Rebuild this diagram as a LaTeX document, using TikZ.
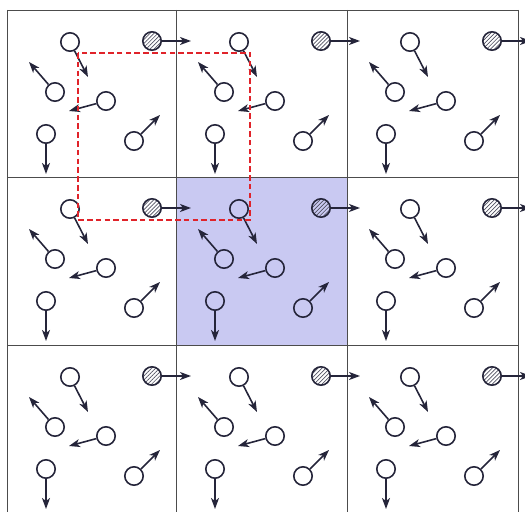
\documentclass[tikz,border=0pt]{standalone}
\usetikzlibrary{arrows.meta,patterns.meta}
\begin{document}
\begin{tikzpicture}[x=0.5pt,y=-0.5pt,
    cellline/.style={draw=black!70, line width=0.45pt},
    mol/.style={circle, draw=inkg, line width=0.8pt, minimum size=9.2pt, inner sep=0pt},
    tagged/.style={mol, pattern={Lines[angle=45,distance=1.4pt,line width=0.35pt]}, pattern color=inkg!80},
    vel/.style={draw=inkg, line width=0.8pt, -{Stealth[length=5.5pt,width=4pt,inset=1.5pt]}},
    window/.style={draw=redg, line width=1.4pt, dash pattern=on 2.8pt off 1.6pt},
  ]
  \definecolor{inkg}{HTML}{25253A}
  \definecolor{lavg}{HTML}{C9C9F2}
  \definecolor{redg}{HTML}{E0232A}
  \clip (0,0) rectangle (525,512);
  \fill[lavg] (176,177) rectangle (347,345);
  \foreach \x in {7,176,347,518} {\draw[cellline] (\x,10) -- (\x,512);}
  \foreach \y in {10,177,345} {\draw[cellline] (7,\y) -- (518,\y);}
  \foreach \cx/\ci in {7/0,176/1,347/2} {
    \foreach \cy/\cj in {10/0,177/1,345/2} {
      \begin{scope}[shift={(\cx,\cy)}]
        \foreach \n/\px/\py/\tx/\ty in {a/63/32/81/67, b/48/82/22/52, c/99/91/62/101,
                                        d/39/124/39/164, e/127/131/153/105} {
          \node[mol] (\n\ci\cj) at (\px,\py) {};
          \coordinate (t\n\ci\cj) at (\tx,\ty);
          \draw[vel] (\n\ci\cj) -- (t\n\ci\cj);
        }
        \node[tagged] (h\ci\cj) at (145,31) {};
        \coordinate (th\ci\cj) at (184,31);
        \draw[vel] (h\ci\cj) -- (th\ci\cj);
      \end{scope}
    }
  }
  \draw[window] (78,53) rectangle (250,220);
\end{tikzpicture}
\end{document}
